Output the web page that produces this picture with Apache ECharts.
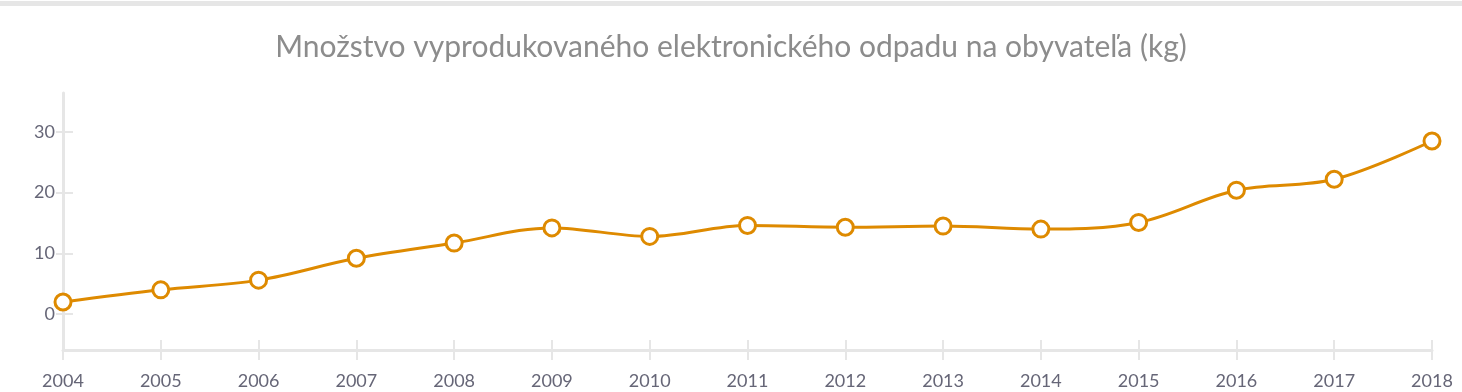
<!DOCTYPE html>
<html>
<head>
<meta charset="utf-8">
<script src="https://cdn.jsdelivr.net/npm/echarts@6/dist/echarts.min.js"></script>
<style>
html,body{margin:0;padding:0;background:#fff;}
#chart{width:1462px;height:392px;}
</style>
</head>
<body>
<div id="chart"></div>
<script>
const titleText = 'Množstvo vyprodukovaného elektronického odpadu na obyvateľa (kg)';
const years = ['2004','2005','2006','2007','2008','2009','2010','2011','2012','2013','2014','2015','2016','2017','2018'];
const wastePerCapita = [2.0, 4.0, 5.6, 9.2, 11.7, 14.2, 12.8, 14.6, 14.3, 14.5, 14.0, 15.1, 20.4, 22.2, 28.5];
const yTicks = [0, 10, 20, 30];

const axisGray = '#e6e6e6';
const labelColor = '#666677';
const lineColor = '#de8a00';
const fontFam = 'Lato, "Open Sans", sans-serif';

const chart = echarts.init(document.getElementById('chart'), null, {renderer: 'canvas'});
const grid = {left: 63, right: 30, top: 93, bottom: 42, containLabel: false};

chart.setOption({
  animation: false,
  backgroundColor: '#ffffff',
  title: {
    text: titleText,
    left: 'center',
    top: 27,
    textStyle: {color: '#8c8c8c', fontSize: 30, fontWeight: 'normal', fontFamily: fontFam}
  },
  graphic: [{
    type: 'rect', left: 0, top: 1, shape: {width: 1462, height: 5},
    style: {fill: axisGray}, silent: true
  }],
  grid: grid,
  xAxis: [{
    type: 'category', data: years, boundaryGap: false,
    axisLine: {onZero: false, lineStyle: {color: axisGray, width: 3}},
    axisTick: {show: true, alignWithLabel: true, length: 10, lineStyle: {color: axisGray, width: 2}},
    axisLabel: {color: labelColor, fontSize: 18, fontFamily: fontFam, margin: 22},
    splitLine: {show: false}
  }, {
    type: 'category', data: years, boundaryGap: false, position: 'bottom',
    axisLine: {show: false, onZero: false},
    axisTick: {show: true, inside: true, length: 10, lineStyle: {color: axisGray, width: 2}},
    axisLabel: {show: false}, splitLine: {show: false}
  }],
  yAxis: [{
    type: 'value', min: -5.9, max: 36.4,
    axisLine: {show: true, onZero: false, lineStyle: {color: axisGray, width: 3}},
    axisTick: {show: true, length: 7, customValues: yTicks, lineStyle: {color: axisGray, width: 2}},
    axisLabel: {color: labelColor, fontSize: 18, fontFamily: fontFam, margin: 8, customValues: yTicks},
    splitLine: {show: false}
  }, {
    type: 'value', min: -5.9, max: 36.4, position: 'left',
    axisLine: {show: false, onZero: false},
    axisTick: {show: true, inside: true, length: 10, customValues: yTicks, lineStyle: {color: axisGray, width: 2}},
    axisLabel: {show: false, customValues: yTicks},
    splitLine: {show: false}
  }],
  series: [{
    type: 'line',
    data: wastePerCapita,
    xAxisIndex: 0, yAxisIndex: 0,
    smooth: 0.35,
    symbol: 'circle', symbolSize: 16,
    lineStyle: {color: lineColor, width: 3},
    itemStyle: {color: '#ffffff', borderColor: lineColor, borderWidth: 3},
    z: 5
  }]
});
</script>
</body>
</html>
